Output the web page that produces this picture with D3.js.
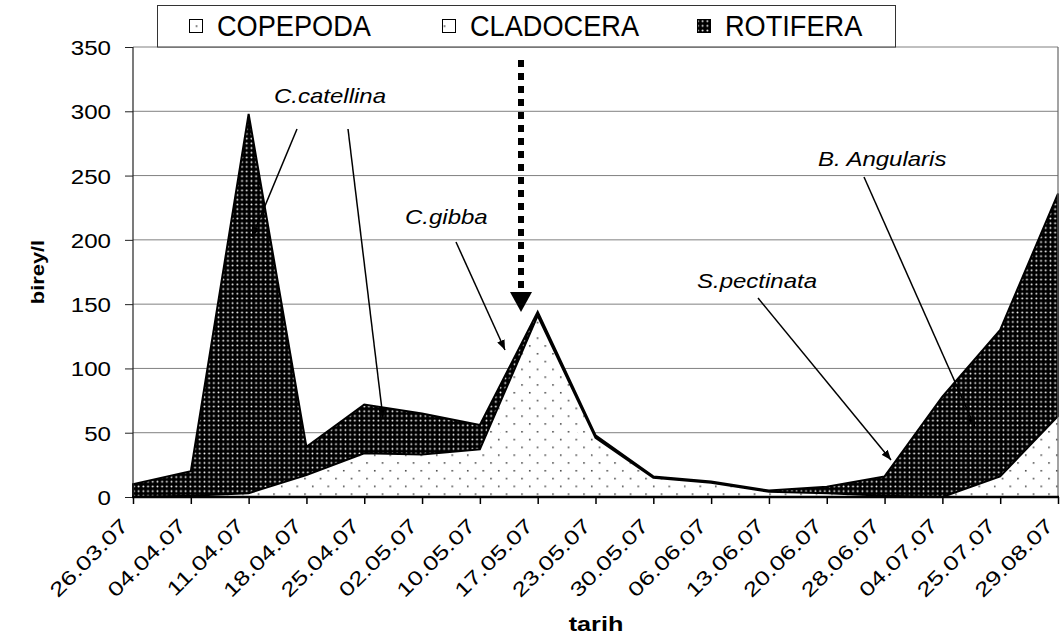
<!DOCTYPE html>
<html><head><meta charset="utf-8">
<script src="https://cdn.jsdelivr.net/npm/d3@7"></script>
<style>body{margin:0;background:#fff} svg{display:block;font-family:"Liberation Sans",Arial,sans-serif}</style>
</head><body>
<svg id="c" width="1061" height="642"></svg>
<script>
// ---- data ----
const categories = ["26.03.07","04.04.07","11.04.07","18.04.07","25.04.07","02.05.07","10.05.07","17.05.07","23.05.07","30.05.07","06.06.07","13.06.07","20.06.07","28.06.07","04.07.07","25.07.07","29.08.07"];
const copepoda  = [0, 1, 2, 12, 24, 22, 25, 95, 30, 10, 7, 3, 2, 1, 0, 10, 40];
const cladocera = [0, 0, 1, 5, 10, 11, 12, 46, 16, 5, 4, 1, 1, 0, 0, 6, 23];
const rotifera  = [10, 19, 295, 22, 38, 32, 19, 3, 2, 1, 1, 1, 5, 15, 78, 114, 173];
const yTicks = [0, 50, 100, 150, 200, 250, 300, 350];
const seriesNames = ["COPEPODA", "CLADOCERA", "ROTIFERA"];
const yTitle = "birey/l";
const xTitle = "tarih";

// ---- layout ----
const L = 133, R = 1058, T = 47, B = 497;
const svg = d3.select("#c");
const x = d3.scalePoint().domain(categories).range([L, R]);
const y = d3.scaleLinear().domain([0, 350]).range([B, T]);

const defs = svg.append("defs");
const pl = defs.append("pattern").attr("id","light").attr("patternUnits","userSpaceOnUse")
  .attr("width",15.5).attr("height",15.6);
pl.append("rect").attr("width",15.5).attr("height",15.6).attr("fill","#fff");
pl.append("rect").attr("x",2).attr("y",2).attr("width",1.5).attr("height",1.5).attr("fill","#333");
pl.append("rect").attr("x",9.75).attr("y",9.8).attr("width",1.5).attr("height",1.5).attr("fill","#333");
const pd = defs.append("pattern").attr("id","dark").attr("patternUnits","userSpaceOnUse")
  .attr("width",4.7).attr("height",4.7);
pd.append("rect").attr("width",4.7).attr("height",4.7).attr("fill","#000");
pd.append("circle").attr("cx",2.35).attr("cy",2.35).attr("r",0.95).attr("fill","#fff");
const mk = defs.append("marker").attr("id","ah").attr("markerUnits","userSpaceOnUse")
  .attr("markerWidth",10).attr("markerHeight",8).attr("refX",10).attr("refY",4).attr("orient","auto");
mk.append("path").attr("d","M0,0 L10,4 L0,8 Z").attr("fill","#000");

// gridlines
svg.append("g").selectAll("line").data(yTicks.filter(v => v > 0)).join("line")
  .attr("x1", L).attr("x2", R).attr("y1", d => y(d)).attr("y2", d => y(d))
  .attr("stroke", "#808080").attr("stroke-width", 1);

// stacked areas
const table = categories.map((c, i) => ({cat: c, COPEPODA: copepoda[i], CLADOCERA: cladocera[i], ROTIFERA: rotifera[i]}));
const stacked = d3.stack().keys(seriesNames)(table);
const area = d3.area().x(d => x(d.data.cat)).y0(d => y(d[0])).y1(d => y(d[1]));
const fills = {COPEPODA: "url(#light)", CLADOCERA: "url(#light)", ROTIFERA: "url(#dark)"};
svg.append("g").selectAll("path").data(stacked).join("path")
  .attr("d", area)
  .attr("fill", d => fills[d.key])
  .attr("stroke", d => d.key === "ROTIFERA" ? "#000" : "none")
  .attr("stroke-width", 2).attr("stroke-linejoin", "miter");

// axes
svg.append("line").attr("x1", L).attr("x2", L).attr("y1", T).attr("y2", B).attr("stroke", "#222").attr("stroke-width", 1.2);
svg.append("line").attr("x1", R).attr("x2", R).attr("y1", T).attr("y2", B).attr("stroke", "#666").attr("stroke-width", 1.2);

const yAxis = svg.append("g").attr("transform", `translate(${L},0)`)
  .call(d3.axisLeft(y).tickValues(yTicks).tickSize(8).tickPadding(0).tickFormat(d3.format("d")));
yAxis.select(".domain").remove();
yAxis.selectAll(".tick line").attr("stroke", "#222");
yAxis.selectAll(".tick text").remove();
yAxis.selectAll(".tick").append("text")
  .attr("transform", "translate(-22,7.5) scale(1.15,1)")
  .attr("text-anchor", "end").attr("fill", "#000")
  .style("font-size", "21px").style("font-family", '"Liberation Sans",Arial,sans-serif')
  .text(d => d);

const xAxis = svg.append("g").attr("transform", `translate(0,${B})`)
  .call(d3.axisBottom(x).tickSize(7).tickPadding(0));
xAxis.select(".domain").remove();
xAxis.selectAll(".tick line").attr("stroke", "#000").attr("stroke-width", 1.5);
xAxis.selectAll(".tick text").remove();
xAxis.selectAll(".tick").append("text")
  .attr("transform", "translate(-4,30) rotate(-45) scale(1.3,1)")
  .attr("text-anchor", "end").attr("fill", "#000")
  .style("font-size", "20px").style("font-family", '"Liberation Sans",Arial,sans-serif')
  .text(d => d);
svg.append("line").attr("x1", L - 1).attr("x2", R + 1).attr("y1", B).attr("y2", B).attr("stroke", "#000").attr("stroke-width", 2.5);

// titles
svg.append("text").attr("transform", "translate(596,631) scale(1.2,1)").attr("text-anchor", "middle")
  .style("font-size", "21px").style("font-weight", "bold").text(xTitle);
svg.append("text").attr("transform", "translate(44,272) rotate(-90) scale(1.15,1)").attr("text-anchor", "middle")
  .style("font-size", "19px").style("font-weight", "bold").text(yTitle);

// annotations
function note(t, tx, ty) {
  svg.append("text").attr("transform", `translate(${tx},${ty}) scale(1.2,1)`)
    .style("font-size", "20px").style("font-style", "italic").text(t);
}
function arrow(x1, y1, x2, y2) {
  svg.append("line").attr("x1", x1).attr("y1", y1).attr("x2", x2).attr("y2", y2)
    .attr("stroke", "#000").attr("stroke-width", 1.5).attr("marker-end", "url(#ah)");
}
note("C.catellina", 274, 103);
arrow(297, 129, 252, 237);
arrow(348, 129, 383, 418);
note("C.gibba", 405, 224);
arrow(456, 242, 505, 350);
note("S.pectinata", 697, 288);
arrow(758, 298, 891, 460);
note("B. Angularis", 818, 166);
arrow(864, 177, 975, 427);

// dotted arrow
svg.append("line").attr("x1", 521).attr("x2", 521).attr("y1", 60).attr("y2", 292)
  .attr("stroke", "#000").attr("stroke-width", 6).attr("stroke-dasharray", "7,6");
svg.append("path").attr("d", "M510,292 L532,292 L521,312 Z").attr("fill", "#000");

// legend
const lg = svg.append("g");
lg.append("rect").attr("x", 157.5).attr("y", 5.5).attr("width", 738).attr("height", 41.5)
  .attr("fill", "#fff").attr("stroke", "#333").attr("stroke-width", 1);
const lx = [189, 442, 697];
seriesNames.forEach((n, i) => {
  lg.append("rect").attr("x", lx[i] + 0.5).attr("y", 19.5).attr("width", 13).attr("height", 13)
    .attr("fill", fills[n]).attr("stroke", "#000").attr("stroke-width", 1);
  lg.append("text").attr("transform", `translate(${lx[i] + 28},36) scale(0.97,1.05)`)
    .style("font-size", "28px").text(n);
});
</script>
</body></html>
